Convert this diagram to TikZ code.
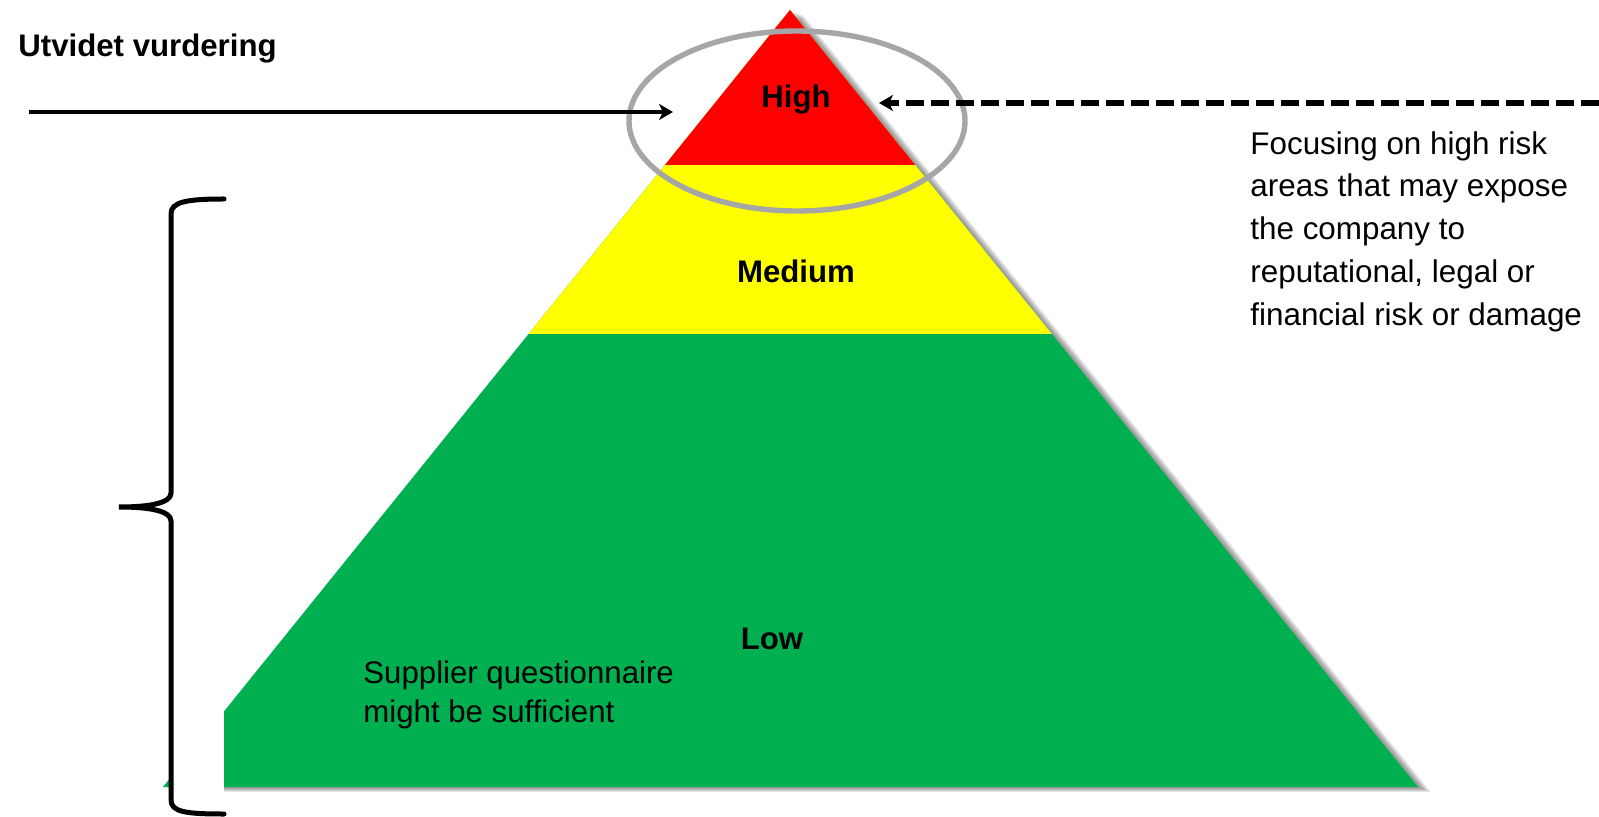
\documentclass[tikz,border=0pt]{standalone}
\usepackage{fontspec}
\setmainfont{Liberation Sans}
\usetikzlibrary{arrows.meta,calc}
\definecolor{hired}{HTML}{FF0000}
\definecolor{medyellow}{HTML}{FFFF00}
\definecolor{lowgreen}{HTML}{00B050}
\definecolor{ringgray}{HTML}{A6A6A6}
\tikzset{
  level/.style={font=\fontsize{15.6}{18}\selectfont\bfseries,inner sep=0pt,anchor=base},
  note/.style={font=\fontsize{15.7}{21.4}\selectfont,align=left,inner sep=0pt,anchor=north west},
  pointer/.style={line width=2.2pt,-{Stealth[length=7pt,width=8pt,inset=2pt]}},
}
\begin{document}
\begin{tikzpicture}[x=0.5pt,y=-0.5pt]
  \useasboundingbox (0,0) rectangle (1599,817);
  \coordinate (T) at (790,10);
  \coordinate (L) at (163,787);
  \coordinate (R) at (1418,787);
  % soft shadow
  \foreach \s in {3,5,7,9,11,13}
    \fill[black,opacity=0.08] ($(T)+(\s,\s*0.4)$) -- ($(R)+(\s,\s*0.4)$) -- ($(L)+(\s,\s*0.4)$) -- cycle;
  \begin{scope}
    \clip (T) -- (R) -- (L) -- cycle;
    \fill[lowgreen] (0,0) rectangle (1599,817);
    \fill[medyellow] (0,0) rectangle (1599,334);
    \fill[hired] (0,0) rectangle (1599,165);
  \end{scope}
  \fill[white] (171,560) rectangle (224,805);
  \draw[ringgray,line width=2.7pt] (797,121) ellipse [x radius=168,y radius=90];
  \coordinate (inL) at (29,112);
  \coordinate (inLtip) at (673,112);
  \coordinate (inR) at (1599,103);
  \coordinate (inRtip) at (879,103);
  \draw[pointer] (inL) -- (inLtip);
  \draw[pointer,line width=3pt,dash pattern=on 9pt off 3.5pt] (inR) -- (inRtip);
  % brace
  \draw[line width=2.5pt,line cap=round] (224,199) .. controls (186,199) and (171,202) .. (171,214)
    -- (171,493) .. controls (171,503) and (150,507) .. (119,507)
    .. controls (150,507) and (171,511) .. (171,521)
    -- (171,800) .. controls (171,812) and (186,814) .. (224,814);
  \node[level] (high) at (796,108) {High};
  \node[level] (med) at (796,283) {Medium};
  \node[level] (low) at (772,649) {Low};
  \node[level,anchor=base west] (title) at (18,57) {Utvidet vurdering};
  \node[note] (focus) at (1250,131) {Focusing on high risk\\areas that may expose\\the company to\\reputational, legal or\\financial risk or damage};
  \node[note,font=\fontsize{15.6}{19.5}\selectfont] (supp) at (363,660) {Supplier questionnaire\\might be sufficient};
\end{tikzpicture}
\end{document}
